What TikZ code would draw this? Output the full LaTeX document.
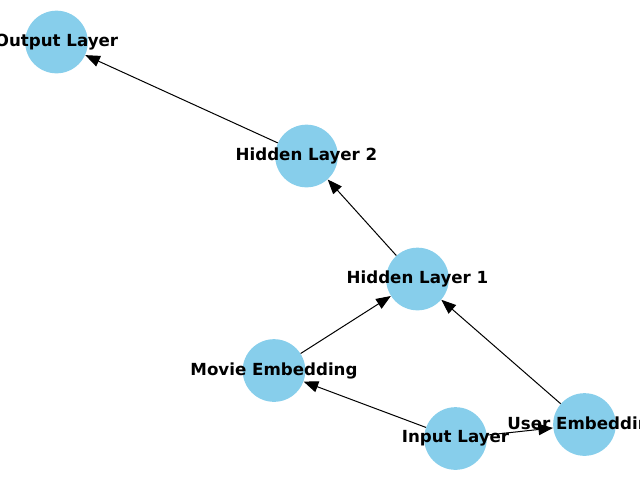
\documentclass[tikz,border=0pt]{standalone}
\usepackage{fontspec}
\setmainfont{DejaVu Sans}
\usetikzlibrary{arrows.meta}
\definecolor{skyblue}{HTML}{87CEEB}
\tikzset{
  nn/.style={circle, fill=skyblue, draw=none, minimum size=47pt, inner sep=0pt},
  lbl/.style={font=\fontsize{12.5pt}{15pt}\selectfont\bfseries, inner sep=0pt, text=black},
  edge/.style={line width=0.75pt, -{Triangle[length=11pt, width=8.5pt]}}
}
\begin{document}
\begin{tikzpicture}[x=0.75pt, y=-0.75pt]
\useasboundingbox (0,0) rectangle (640,480);
\node[nn] (out) at (56.5,42) {};
\node[nn] (h2) at (306.5,156) {};
\node[nn] (h1) at (417.5,279) {};
\node[nn] (mov) at (274,370.5) {};
\node[nn] (inp) at (455.5,438.5) {};
\node[nn] (usr) at (584.5,424.5) {};
\draw[edge] (inp) -- (mov);
\draw[edge] (inp) -- (usr);
\draw[edge] (mov) -- (h1);
\draw[edge] (usr) -- (h1);
\draw[edge] (h1) -- (h2);
\draw[edge] (h2) -- (out);
\node[lbl] (tout) at (56.5,42) {Output Layer};
\node[lbl] (th2) at (306.5,156) {Hidden Layer 2};
\node[lbl] (th1) at (417.5,279) {Hidden Layer 1};
\node[lbl] (tmov) at (274,370.5) {Movie Embedding};
\node[lbl] (tinp) at (455.5,438.5) {Input Layer};
\node[lbl] (tusr) at (584.5,424.5) {User Embedding};
\end{tikzpicture}
\end{document}
